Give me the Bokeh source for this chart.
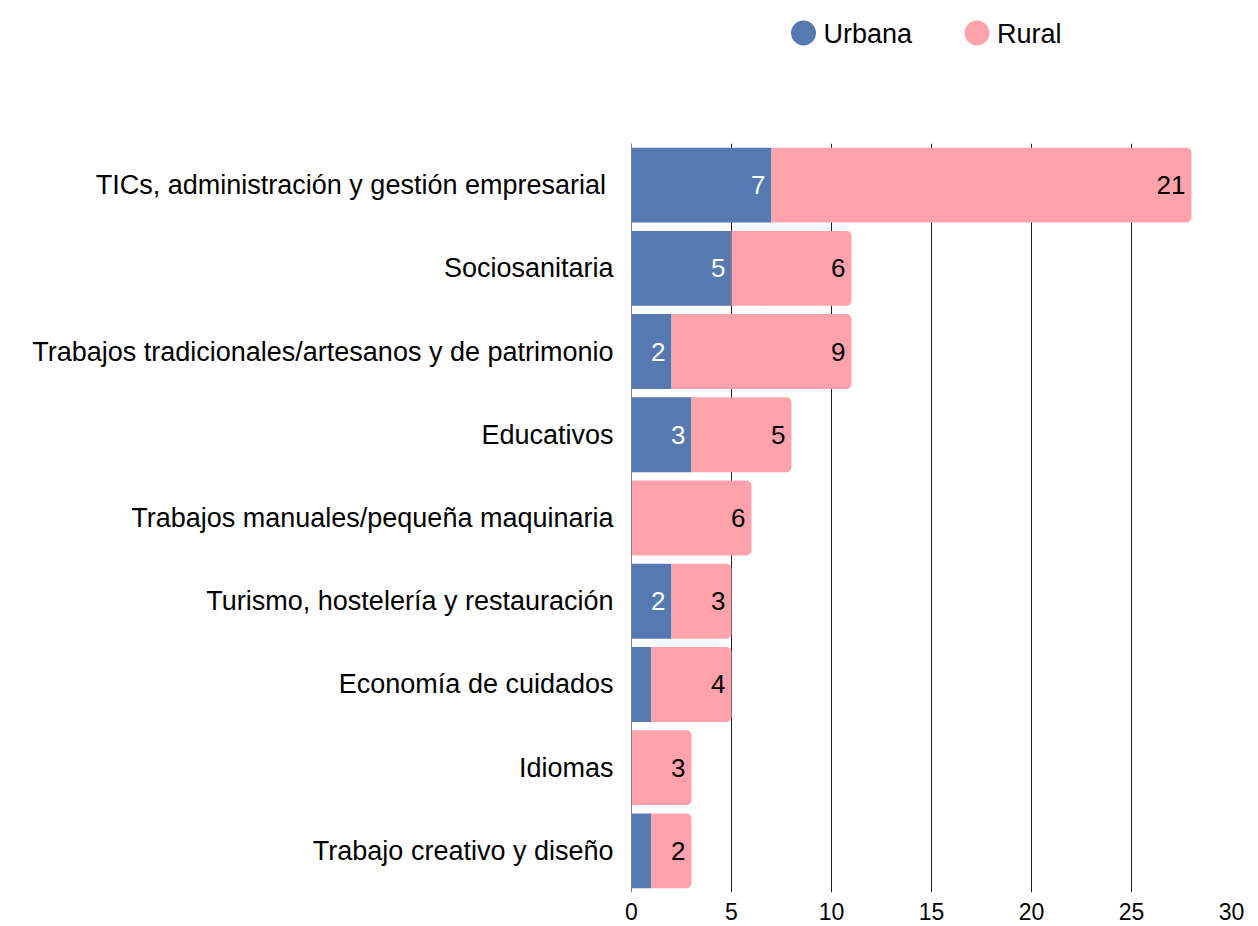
from bokeh.plotting import figure
from bokeh.models import Range1d, FactorRange, FixedTicker, ColumnDataSource
from bokeh.layouts import column
from bokeh.embed import file_html
from bokeh.resources import INLINE
from bokeh.core.properties import value

categories = [
    "TICs, administración y gestión empresarial ",
    "Sociosanitaria",
    "Trabajos tradicionales/artesanos y de patrimonio",
    "Educativos",
    "Trabajos manuales/pequeña maquinaria",
    "Turismo, hostelería y restauración",
    "Economía de cuidados",
    "Idiomas",
    "Trabajo creativo y diseño",
]
urbana = [7, 5, 2, 3, 0, 2, 1, 0, 1]
rural = [21, 6, 9, 5, 6, 3, 4, 3, 2]
series = ["Urbana", "Rural"]
colors = ["#5579b0", "#ffa2ab"]
x_ticks = [0, 5, 10, 15, 20, 25, 30]

FONT = "Liberation Sans"
total = [u + r for u, r in zip(urbana, rural)]

W = 1258
BL = 631
BR = 27
FRAME_W = W - BL - BR

# ---- legend strip ----
leg = figure(width=W, height=143, x_range=Range1d(0, FRAME_W), y_range=Range1d(0, 143),
             x_axis_type=None, y_axis_type=None, output_backend="svg", toolbar_location=None,
             min_border_left=BL, min_border_right=BR, min_border_top=0, min_border_bottom=0,
             outline_line_color=None)
leg.grid.visible = False
leg_x = [172, 345.5]
leg.scatter(x=leg_x, y=[110.5, 110.5], size=25, color=colors, line_color=None)
leg.text(x=[x + 20 for x in leg_x], y=[109.5, 109.5], text=series, text_font=value(FONT),
         text_font_size="27px", text_baseline="middle", text_align="left", text_color="#000000")

# ---- main chart ----
p = figure(width=W, height=783, y_range=FactorRange(factors=list(reversed(categories))),
           x_range=Range1d(0, 30), output_backend="svg", toolbar_location=None,
           min_border_left=BL, min_border_right=BR, min_border_top=0, min_border_bottom=34,
           outline_line_color=None)

src = ColumnDataSource(dict(cat=categories, urbana=urbana, rural=rural, total=total))
p.hbar(y="cat", left=0, right="urbana", height=0.9, source=src, color=colors[0], line_color=None)
p.hbar(y="cat", left="urbana", right="total", height=0.9, source=src, color=colors[1],
       line_color=None, border_radius=(0, 5, 5, 0))

ux = [c for c, u in zip(categories, urbana) if u >= 2]
uv = [u for u in urbana if u >= 2]
p.text(x=uv, y=ux, text=[str(v) for v in uv], x_offset=-6, text_align="right",
       text_baseline="middle", text_color="#ffffff", text_font=value(FONT), text_font_size="26px")
rc = [c for c, r in zip(categories, rural) if r > 0]
rx = [t for t, r in zip(total, rural) if r > 0]
rv = [r for r in rural if r > 0]
p.text(x=rx, y=rc, text=[str(v) for v in rv], x_offset=-6, text_align="right",
       text_baseline="middle", text_color="#000000", text_font=value(FONT), text_font_size="26px")

p.xaxis.ticker = FixedTicker(ticks=x_ticks)
p.xaxis.axis_line_color = None
p.xaxis.major_tick_line_color = None
p.xaxis.minor_tick_line_color = None
p.xaxis.major_label_standoff = 4
p.xaxis.major_label_text_font = FONT
p.xaxis.major_label_text_font_size = "23px"
p.xaxis.major_label_text_color = "#000000"

p.yaxis.axis_line_color = "#7f7f7f"
p.yaxis.major_tick_line_color = None
p.yaxis.minor_tick_line_color = None
p.yaxis.major_label_standoff = 12
p.yaxis.major_label_text_font = FONT
p.yaxis.major_label_text_font_size = "27px"
p.yaxis.major_label_text_color = "#000000"

p.ygrid.grid_line_color = None
p.xgrid.ticker = FixedTicker(ticks=x_ticks)
p.xgrid.grid_line_color = "#222222"
p.xgrid.grid_line_width = 1

layout = column(leg, p, spacing=0)
open("out.html", "w").write(file_html(layout, INLINE))
